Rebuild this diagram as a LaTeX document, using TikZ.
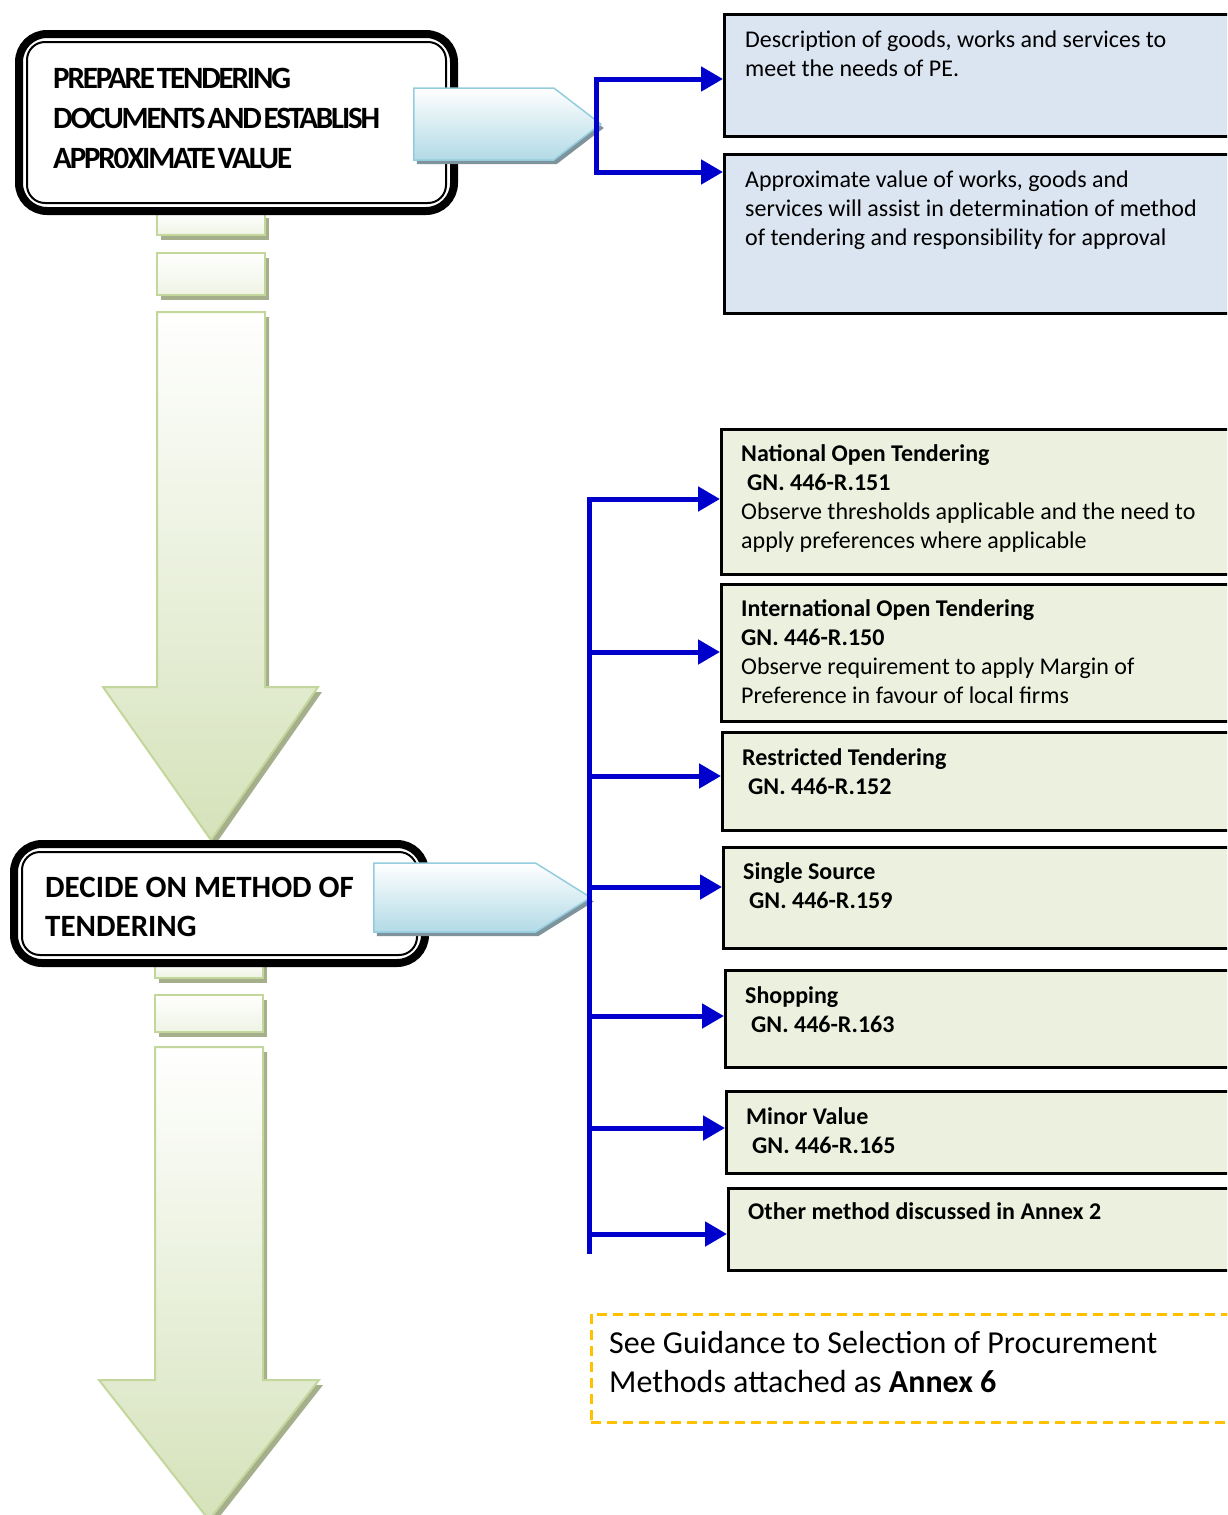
\documentclass[tikz,border=0pt]{standalone}
\usepackage{fontspec}
\setmainfont{Carlito}
\newfontfamily\condfont[LetterSpace=-7,WordSpace=0.4]{Carlito}
\usepackage{tikz}
\usetikzlibrary{arrows.meta,positioning,shapes.symbols,shadows}
\definecolor{flowBlue}{HTML}{0000CC}
\definecolor{descFill}{HTML}{DBE5F1}
\definecolor{methFill}{HTML}{EBF1DE}
\definecolor{noteEdge}{HTML}{FFC000}
\definecolor{tagEdge}{HTML}{93CDDD}
\definecolor{tagFill}{HTML}{B2DAE6}
\definecolor{tagShadow}{HTML}{7F939D}
\definecolor{stripEdge}{HTML}{C3D69B}
\definecolor{stripFill}{HTML}{D5E2BA}
\definecolor{stripShadow}{HTML}{A5AF8C}
\tikzset{
  stagebox/.style={
    rectangle,
    rounded corners=28pt,
    draw=black,
    line width=8pt,
    fill=white,
    inner sep=0pt
  },
  stageinner/.style={draw=black, line width=2pt, rounded corners=18pt},
  stagetext/.style={
    anchor=north west,
    inner sep=0pt,
    align=left,
    font=\fontsize{31}{40}\selectfont\bfseries
  },
  tagarrow/.style={
    signal,
    signal to=east,
    draw=tagEdge,
    line width=1.5pt,
    top color=white,
    bottom color=tagFill,
    inner sep=0pt,
    drop shadow={shadow xshift=3pt, shadow yshift=-4pt, fill=tagShadow, opacity=1}
  },
  infobox/.style={
    rectangle,
    draw=black,
    line width=3pt,
    fill=descFill,
    inner sep=0pt,
    anchor=north west
  },
  methbox/.style={infobox, fill=methFill},
  notebox/.style={
    rectangle,
    draw=noteEdge,
    line width=2.5pt,
    dash pattern=on 10pt off 6pt,
    inner sep=0pt,
    anchor=north west
  },
  boxtext/.style={
    anchor=north west,
    inner sep=0pt,
    align=left,
    font=\fontsize{24}{29}\selectfont
  },
  stripbar/.style={
    draw=stripEdge,
    line width=2pt,
    top color=white,
    bottom color=stripFill!40,
    drop shadow={shadow xshift=4pt, shadow yshift=-5pt, fill=stripShadow, opacity=1}
  },
  striparrow/.style={stripbar, bottom color=stripFill},
  flowline/.style={line width=5pt, draw=flowBlue, line cap=rect},
  flowarrow/.style={line width=5pt, draw=flowBlue, -{Triangle[length=22pt,width=24pt]}}
}
\begin{document}
\begin{tikzpicture}[x=1pt,y=-1pt]
  \useasboundingbox (0,0) rectangle (1227,1515);
  \clip (0,0) rectangle (1227,1515);

  % striped arrows down the left
  \draw[stripbar] (157,213) rectangle (265,235);
  \draw[stripbar] (157,253) rectangle (265,295);
  \draw[striparrow] (157,312) -- (265,312) -- (265,687) -- (318,687) -- (211,840) -- (103,687) -- (157,687) -- cycle;
  \draw[stripbar] (155,960) rectangle (263,978);
  \draw[stripbar] (155,995) rectangle (263,1032);
  \draw[striparrow] (155,1047) -- (263,1047) -- (263,1380) -- (319,1380) -- (209,1520) -- (99,1380) -- (155,1380) -- cycle;

  % stages
  \node[stagebox, minimum width=435pt, minimum height=177pt] (prep) at (236.5,122.5) {};
  \draw[stageinner] ([xshift=12pt,yshift=-12pt]prep.north west) rectangle ([xshift=-12pt,yshift=12pt]prep.south east);
  \node[stagetext, font=\fontsize{31}{40}\condfont\bfseries, below right=38pt and 38pt of prep.north west] (prepT)
        {PREPARE TENDERING\\DOCUMENTS AND ESTABLISH\\APPR0XIMATE VALUE};
  \node[stagebox, minimum width=411pt, minimum height=119pt] (decide) at (219.5,903.5) {};
  \draw[stageinner] ([xshift=12pt,yshift=-12pt]decide.north west) rectangle ([xshift=-12pt,yshift=12pt]decide.south east);
  \node[stagetext, font=\fontsize{31}{39}\selectfont\bfseries, below right=37pt and 35pt of decide.north west] (decideT)
        {DECIDE ON METHOD OF\\TENDERING};

  \node[tagarrow, minimum width=187pt, minimum height=72pt, signal pointer angle=75, anchor=west] (tagA) at (413,124) {};
  \node[tagarrow, minimum width=217pt, minimum height=69pt, signal pointer angle=64, anchor=west] (tagB) at (373,897.5) {};

  % outputs of first stage
  \node[infobox, minimum width=520pt, minimum height=122pt] (desc) at (723,13) {};
  \node[infobox, minimum width=520pt, minimum height=159pt] (approx) at (723,153) {};
  \node[boxtext, below right=18pt and 22pt of desc.north west] (descT)
        {Description of goods, works and services to\\meet the needs of PE.};
  \node[boxtext, below right=18pt and 22pt of approx.north west] (approxT)
        {Approximate value of works, goods and\\services will assist in determination of method\\of tendering and responsibility for approval};

  \coordinate (brkTop) at (596,79);
  \coordinate (brkBot) at (596,172);
  \draw[flowline] (brkTop) -- (brkBot);
  \draw[flowarrow] (brkTop) -- (brkTop -| desc.west);
  \draw[flowarrow] (brkBot) -- (brkBot -| approx.west);

  % tendering methods
  \node[methbox, minimum width=520pt, minimum height=145pt] (natl) at (720,428) {};
  \node[methbox, minimum width=520pt, minimum height=137pt] (intl) at (720,583) {};
  \node[methbox, minimum width=520pt, minimum height=98pt] (restr) at (721,731) {};
  \node[methbox, minimum width=520pt, minimum height=101pt] (single) at (722,846) {};
  \node[methbox, minimum width=520pt, minimum height=97pt] (shop) at (724,969) {};
  \node[methbox, minimum width=520pt, minimum height=82pt] (minor) at (725,1090) {};
  \node[methbox, minimum width=520pt, minimum height=82pt] (other) at (727,1187) {};

  \node[boxtext, below right=16.5pt and 21pt of natl.north west] (natlT)
        {\textbf{National Open Tendering}\\\hspace*{6pt}\textbf{GN. 446-R.151}\\Observe thresholds applicable and the need to\\apply preferences where applicable};
  \node[boxtext, below right=16pt and 21pt of intl.north west] (intlT)
        {\textbf{International Open Tendering}\\\textbf{GN. 446-R.150}\\Observe requirement to apply Margin of\\Preference in favour of local firms};
  \node[boxtext, below right=17pt and 21pt of restr.north west] (restrT)
        {\textbf{Restricted Tendering}\\\hspace*{6pt}\textbf{GN. 446-R.152}};
  \node[boxtext, below right=16.5pt and 21pt of single.north west] (singleT)
        {\textbf{Single Source}\\\hspace*{6pt}\textbf{GN. 446-R.159}};
  \node[boxtext, below right=17.5pt and 21pt of shop.north west] (shopT)
        {\textbf{Shopping}\\\hspace*{6pt}\textbf{GN. 446-R.163}};
  \node[boxtext, below right=17pt and 21pt of minor.north west] (minorT)
        {\textbf{Minor Value}\\\hspace*{6pt}\textbf{GN. 446-R.165}};
  \node[boxtext, below right=15.5pt and 21pt of other.north west] (otherT)
        {\textbf{Other method discussed in Annex 2}};

  \coordinate (trunkTop) at (589,499);
  \coordinate (trunkBot) at (589,1251);
  \coordinate (m2) at (589,652);
  \coordinate (m3) at (589,776);
  \coordinate (m4) at (589,887);
  \coordinate (m5) at (589,1016);
  \coordinate (m6) at (589,1128);
  \coordinate (m7) at (589,1234);
  \draw[flowline] (trunkTop) -- (trunkBot);
  \draw[flowarrow] (trunkTop) -- (trunkTop -| natl.west);
  \draw[flowarrow] (m2) -- (m2 -| intl.west);
  \draw[flowarrow] (m3) -- (m3 -| restr.west);
  \draw[flowarrow] (m4) -- (m4 -| single.west);
  \draw[flowarrow] (m5) -- (m5 -| shop.west);
  \draw[flowarrow] (m6) -- (m6 -| minor.west);
  \draw[flowarrow] (m7) -- (m7 -| other.west);

  % guidance note
  \node[notebox, minimum width=650pt, minimum height=108pt] (note) at (590,1313) {};
  \node[boxtext, font=\fontsize{32}{39}\selectfont, below right=18pt and 19pt of note.north west] (noteT)
        {See Guidance to Selection of Procurement\\Methods attached as \textbf{Annex 6}};
\end{tikzpicture}
\end{document}
